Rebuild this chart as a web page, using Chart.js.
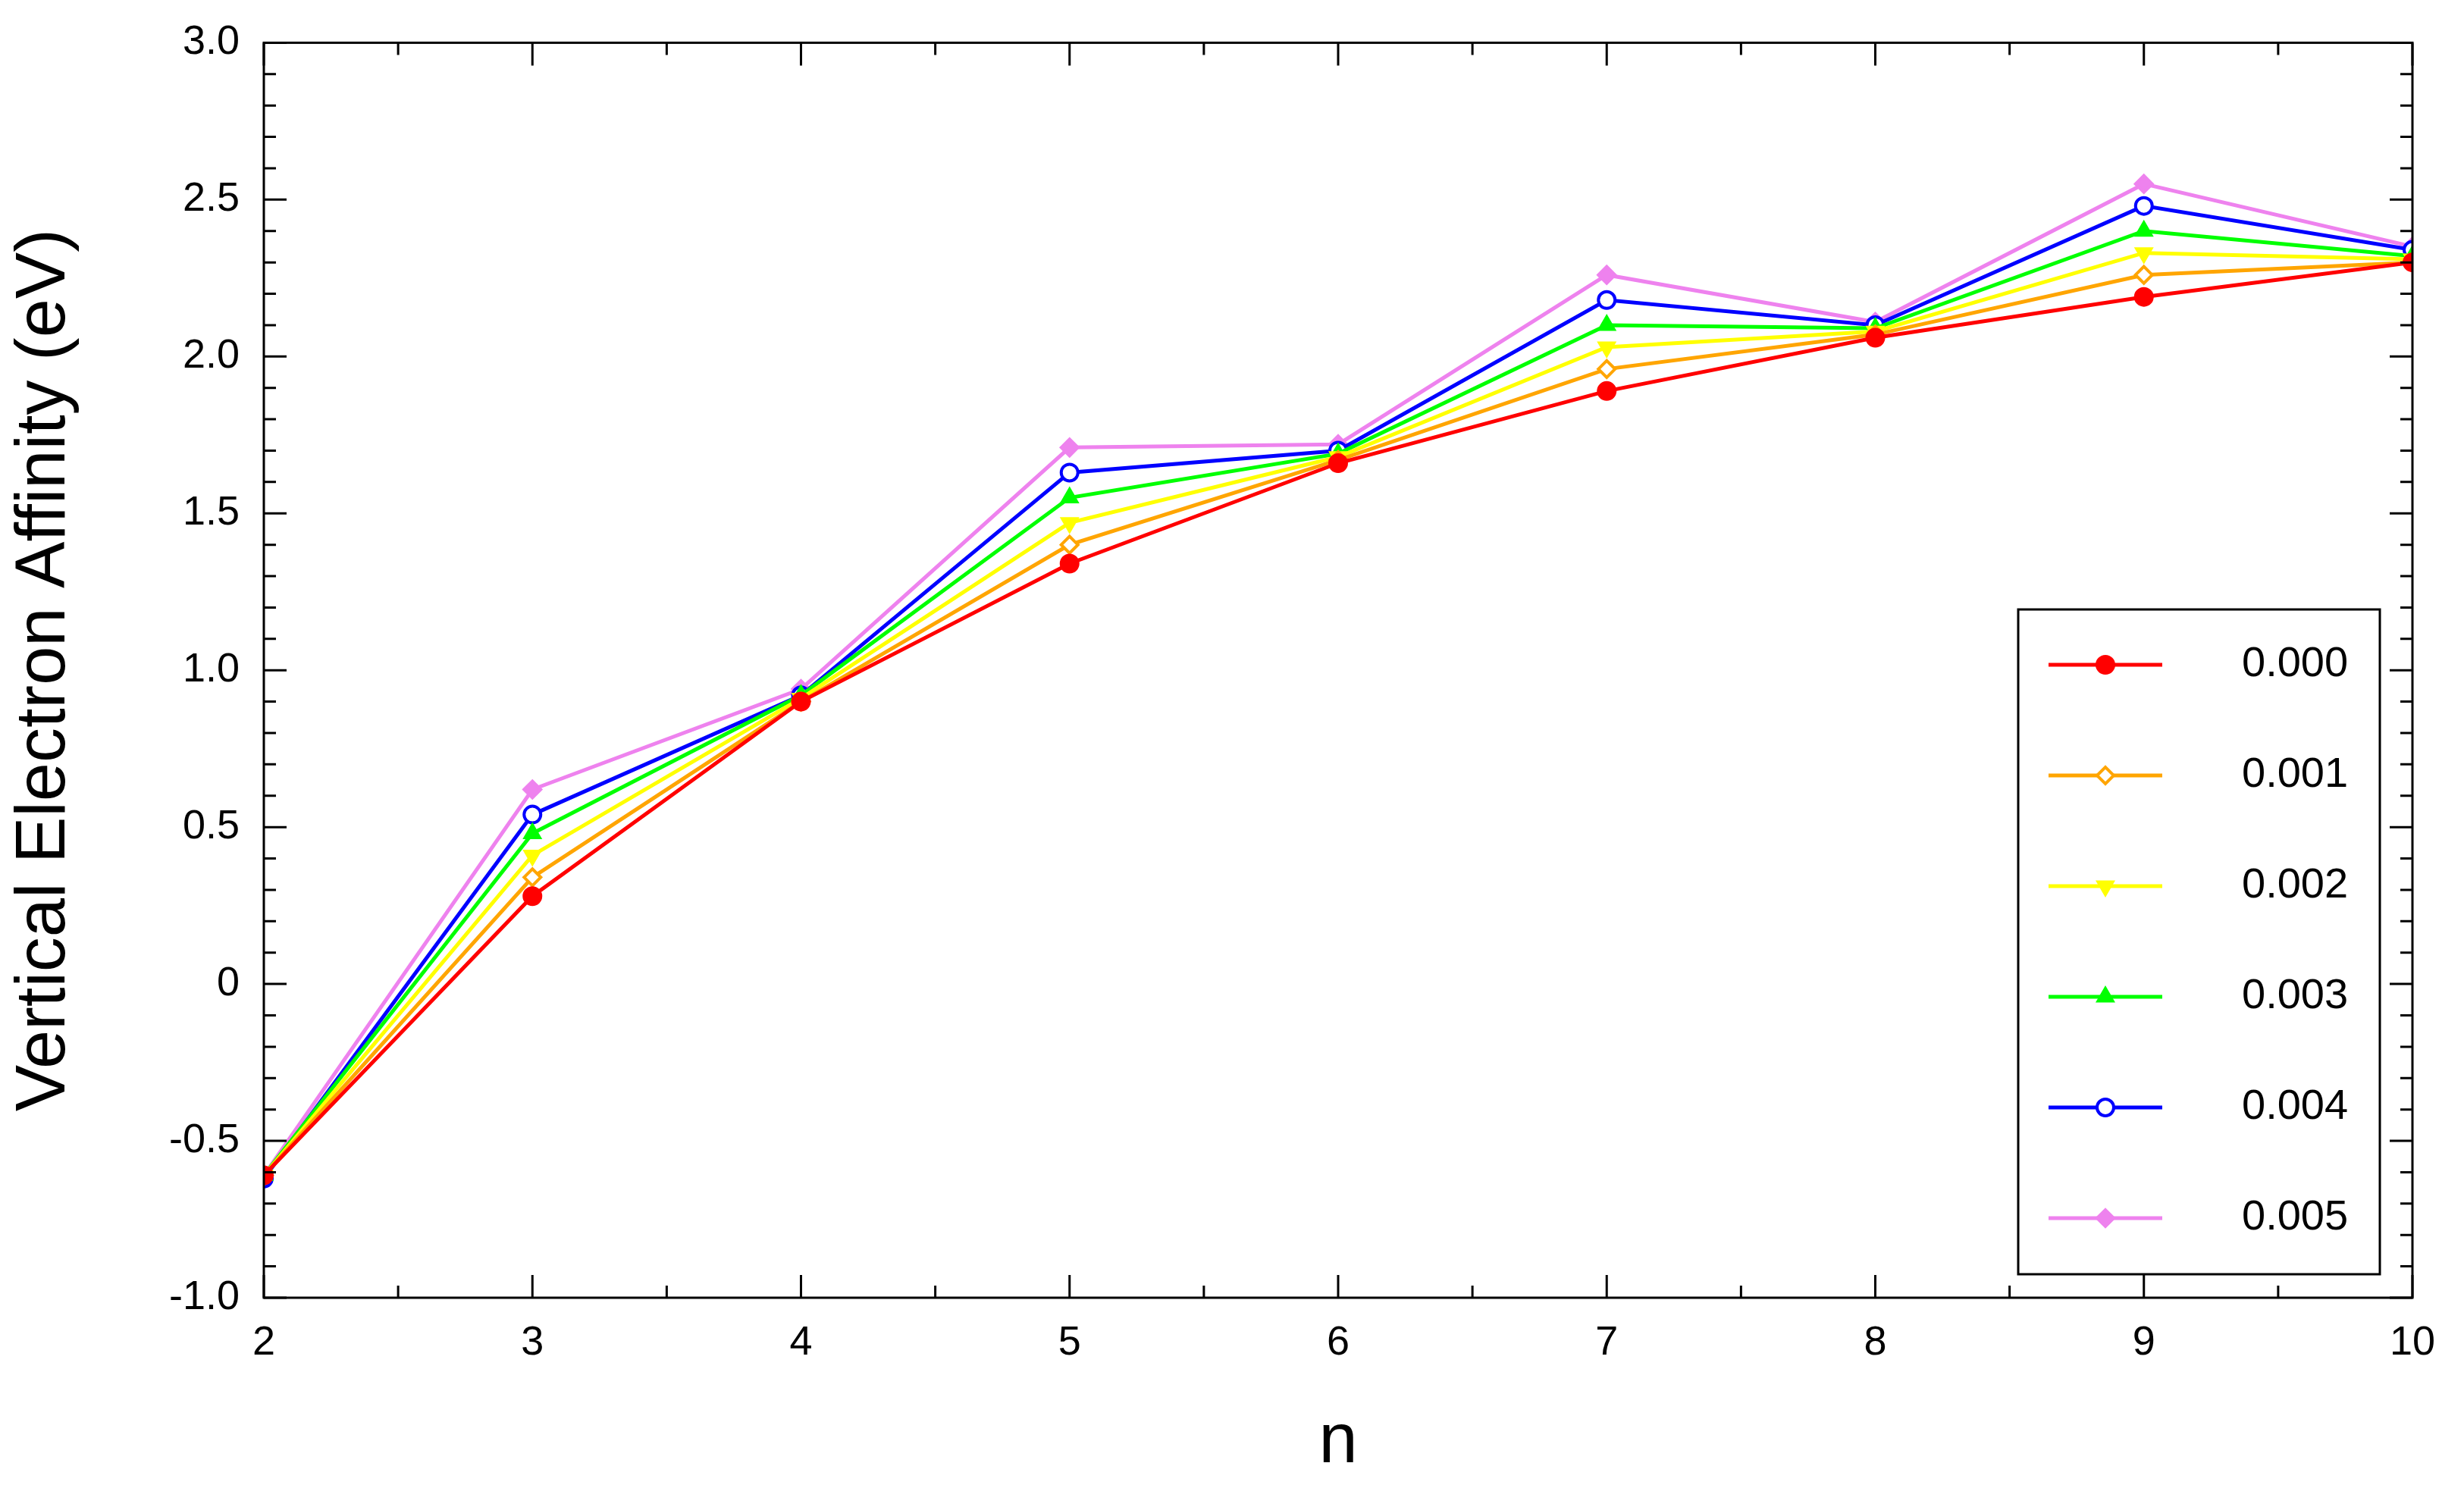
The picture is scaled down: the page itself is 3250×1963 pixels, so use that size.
<!DOCTYPE html>
<html>
<head>
<meta charset="utf-8">
<script src="https://cdn.jsdelivr.net/npm/chart.js@4/dist/chart.umd.min.js"></script>
<style>
  html, body { margin: 0; padding: 0; background: #fff; }
  #wrap { width: 3250px; height: 1963px; }
</style>
</head>
<body>
<div id="wrap"><canvas id="c"></canvas></div>
<script>
// datos
const nValues = [2, 3, 4, 5, 6, 7, 8, 9, 10];
const seriesLabels = ['0.000', '0.001', '0.002', '0.003', '0.004', '0.005'];
const vea000 = [-0.61, 0.28, 0.90, 1.34, 1.66, 1.89, 2.06, 2.19, 2.30];
const vea001 = [-0.61, 0.34, 0.90, 1.40, 1.67, 1.96, 2.07, 2.26, 2.30];
const vea002 = [-0.61, 0.41, 0.91, 1.47, 1.68, 2.03, 2.08, 2.33, 2.31];
const vea003 = [-0.61, 0.48, 0.92, 1.55, 1.69, 2.10, 2.09, 2.40, 2.32];
const vea004 = [-0.62, 0.54, 0.92, 1.63, 1.70, 2.18, 2.10, 2.48, 2.34];
const vea005 = [-0.61, 0.62, 0.94, 1.71, 1.72, 2.26, 2.11, 2.55, 2.35];
const yTicks = [-1, -0.5, 0, 0.5, 1, 1.5, 2, 2.5, 3];

const seriesValues = [vea000, vea001, vea002, vea003, vea004, vea005];
const colors = ['#ff0000', '#ffa500', '#ffff00', '#00ff00', '#0000ff', '#ee82ee'];
const styles = [
    { pointStyle: 'circle', fill: true, rotation: 0 },
    { pointStyle: 'rectRot', fill: false, rotation: 0 },
    { pointStyle: 'triangle', fill: true, rotation: 180 },
    { pointStyle: 'triangle', fill: true, rotation: 0 },
    { pointStyle: 'circle', fill: false, rotation: 0 },
    { pointStyle: 'rectRot', fill: true, rotation: 0 }
];
const FONT = 'Liberation Sans, Arial, sans-serif';

const datasets = seriesValues.map((vals, i) => ({
    label: seriesLabels[i],
    data: vals.map((v, j) => ({ x: nValues[j], y: v })),
    borderColor: colors[i],
    backgroundColor: styles[i].fill ? colors[i] : '#ffffff',
    pointBorderColor: colors[i],
    pointBackgroundColor: styles[i].fill ? colors[i] : '#ffffff',
    pointStyle: styles[i].pointStyle,
    rotation: styles[i].rotation,
    pointRadius: 11,
    pointBorderWidth: 4,
    borderWidth: 5,
    tension: 0
}));

// marco, ticks hacia adentro y leyenda
const framePlugin = {
    id: 'frame',
    afterDraw(chart) {
        const ctx = chart.ctx;
        const a = chart.chartArea;
        const xs = chart.scales.x, ys = chart.scales.y;
        ctx.save();
        ctx.strokeStyle = '#000';
        ctx.lineWidth = 3;
        ctx.strokeRect(a.left, a.top, a.right - a.left, a.bottom - a.top);
        ctx.lineWidth = 3;
        for (let k = -10; k <= 30; k++) {
            const v = k / 10;
            const py = ys.getPixelForValue(v);
            const len = (k % 5 === 0) ? 30 : 16;
            ctx.beginPath();
            ctx.moveTo(a.left, py); ctx.lineTo(a.left + len, py);
            ctx.moveTo(a.right, py); ctx.lineTo(a.right - len, py);
            ctx.stroke();
        }
        for (let k = 4; k <= 20; k++) {
            const v = k / 2;
            const px = xs.getPixelForValue(v);
            const len = (k % 2 === 0) ? 30 : 16;
            ctx.beginPath();
            ctx.moveTo(px, a.bottom); ctx.lineTo(px, a.bottom - len);
            ctx.moveTo(px, a.top); ctx.lineTo(px, a.top + len);
            ctx.stroke();
        }
        // leyenda
        const bx = 2662, by = 804, bw = 477, bh = 877;
        ctx.fillStyle = '#fff';
        ctx.fillRect(bx, by, bw, bh);
        ctx.strokeRect(bx, by, bw, bh);
        ctx.font = '56px ' + FONT;
        ctx.textBaseline = 'middle';
        chart.data.datasets.forEach((ds, i) => {
            const y = by + 73 + i * 146;
            ctx.strokeStyle = ds.borderColor;
            ctx.lineWidth = 5;
            ctx.beginPath();
            ctx.moveTo(bx + 40, y); ctx.lineTo(bx + 190, y);
            ctx.stroke();
            ctx.fillStyle = ds.pointBackgroundColor;
            ctx.strokeStyle = ds.pointBorderColor;
            ctx.lineWidth = 4;
            Chart.helpers.drawPoint(ctx, { pointStyle: ds.pointStyle, rotation: ds.rotation, radius: 11, borderWidth: 4 }, bx + 115, y);
            ctx.fillStyle = '#000';
            ctx.fillText(ds.label, bx + 295, y);
        });
        ctx.restore();
    }
};

new Chart(document.getElementById('c'), {
    type: 'line',
    data: { datasets: datasets },
    plugins: [framePlugin],
    options: {
        responsive: true,
        maintainAspectRatio: false,
        animation: false,
        layout: { padding: { top: 52, right: 68, left: 0, bottom: 0 } },
        plugins: { legend: { display: false }, tooltip: { enabled: false } },
        scales: {
            x: {
                type: 'linear',
                min: 2, max: 10,
                grid: { display: false },
                border: { display: false },
                ticks: { stepSize: 1, color: '#000', font: { family: FONT, size: 54 }, padding: 20, maxRotation: 0 },
                title: { display: true, text: 'n', color: '#000', font: { family: FONT, size: 92 }, padding: { top: 10 } },
                afterFit: s => { s.height = 251; }
            },
            y: {
                min: -1, max: 3,
                afterBuildTicks: s => { s.ticks = yTicks.map(v => ({ value: v })); },
                grid: { display: false },
                border: { display: false },
                ticks: { color: '#000', font: { family: FONT, size: 54 }, padding: 24 },
                title: { display: true, text: 'Vertical Electron Affinity (eV)', color: '#000', font: { family: FONT, size: 92 }, padding: { bottom: 20 } },
                afterFit: s => { s.width = 348; }
            }
        }
    }
});
</script>
</body>
</html>
